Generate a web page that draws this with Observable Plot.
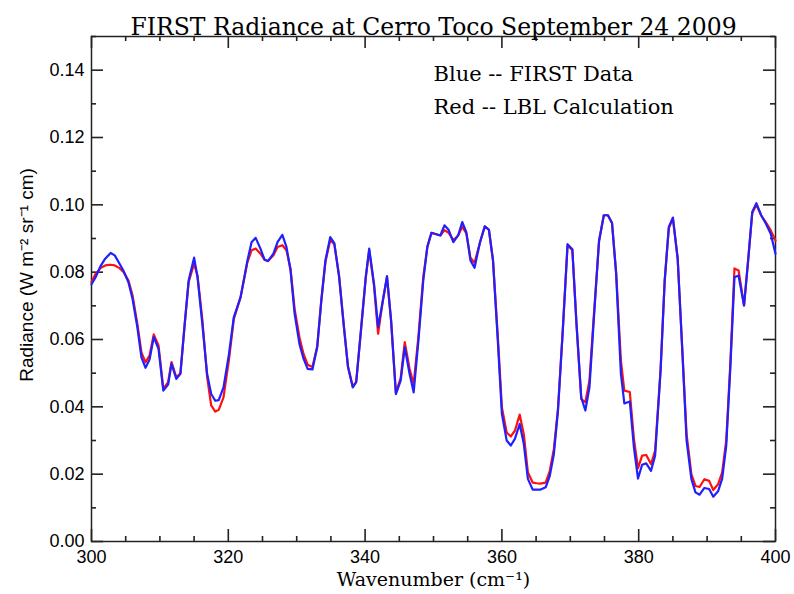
<!DOCTYPE html>
<html>
<head>
<meta charset="utf-8">
<script src="https://cdn.jsdelivr.net/npm/d3@7"></script>
<script src="https://cdn.jsdelivr.net/npm/@observablehq/plot@0.6"></script>
<style>
  html, body { margin: 0; padding: 0; background: white; }
  #chart { width: 794px; height: 594px; }
</style>
</head>
<body>
<div id="chart"></div>
<script>
const wavenumber = [
  300.0, 300.6, 301.3, 302.0, 302.8, 303.4, 304.1, 304.7, 305.4, 306.0,
  306.7, 307.3, 307.9, 308.5, 309.1, 309.8, 310.5, 311.2, 311.7, 312.4,
  313.0, 313.6, 314.2, 315.0, 315.5, 316.2, 316.9, 317.5, 318.1, 318.6,
  319.3, 320.1, 320.8, 321.8, 322.8, 323.4, 324.0, 324.7, 325.3, 325.8,
  326.6, 327.2, 327.9, 328.5, 329.1, 329.7, 330.4, 331.0, 331.6, 332.3,
  333.0, 333.6, 334.2, 334.9, 335.5, 336.2, 336.9, 337.5, 338.2, 338.7,
  339.4, 340.1, 340.6, 341.3, 341.9, 342.6, 343.2, 343.8, 344.5, 345.2,
  345.8, 346.5, 347.1, 347.8, 348.5, 349.1, 349.7, 351.0, 351.6, 352.2,
  352.9, 353.6, 354.2, 354.8, 355.4, 356.0, 356.8, 357.5, 358.1, 358.7,
  359.4, 360.0, 360.7, 361.3, 361.9, 362.6, 363.2, 363.8, 364.5, 365.1,
  365.6, 366.4, 367.0, 367.6, 368.2, 368.9, 369.6, 370.3, 370.9, 371.6,
  372.2, 372.8, 373.4, 374.2, 374.9, 375.5, 376.1, 376.7, 377.4, 377.9,
  378.7, 379.3, 379.9, 380.5, 381.1, 381.8, 382.4, 383.2, 383.8, 384.4,
  385.0, 385.7, 386.4, 387.0, 387.7, 388.3, 388.9, 389.6, 390.3, 390.9,
  391.6, 392.2, 392.8, 393.4, 394.0, 394.6, 395.4, 396.0, 396.6, 397.2,
  397.9, 398.6, 399.3, 400.0
];
const firstData = [
  0.0764, 0.0785, 0.0817, 0.0840, 0.0857, 0.0850, 0.0825, 0.0803, 0.0770, 0.0721,
  0.0637, 0.0547, 0.0516, 0.0541, 0.0607, 0.0572, 0.0448, 0.0466, 0.0528, 0.0483,
  0.0498, 0.0640, 0.0775, 0.0843, 0.0785, 0.0647, 0.0498, 0.0438, 0.0418, 0.0420,
  0.0458, 0.0557, 0.0666, 0.0726, 0.0835, 0.0889, 0.0902, 0.0870, 0.0837, 0.0833,
  0.0855, 0.0889, 0.0911, 0.0875, 0.0805, 0.0676, 0.0587, 0.0543, 0.0513, 0.0511,
  0.0577, 0.0716, 0.0835, 0.0904, 0.0886, 0.0785, 0.0637, 0.0518, 0.0458, 0.0473,
  0.0627, 0.0785, 0.0870, 0.0766, 0.0637, 0.0716, 0.0788, 0.0656, 0.0438, 0.0478,
  0.0577, 0.0498, 0.0443, 0.0597, 0.0775, 0.0875, 0.0917, 0.0909, 0.0939, 0.0926,
  0.0889, 0.0909, 0.0949, 0.0919, 0.0835, 0.0813, 0.0889, 0.0936, 0.0926, 0.0835,
  0.0597, 0.0379, 0.0300, 0.0285, 0.0305, 0.0349, 0.0290, 0.0186, 0.0154, 0.0154,
  0.0154, 0.0161, 0.0195, 0.0260, 0.0389, 0.0627, 0.0883, 0.0868, 0.0647, 0.0428,
  0.0389, 0.0458, 0.0647, 0.0894, 0.0969, 0.0969, 0.0946, 0.0795, 0.0498, 0.0410,
  0.0416, 0.0280, 0.0187, 0.0228, 0.0232, 0.0210, 0.0255, 0.0508, 0.0775, 0.0934,
  0.0962, 0.0840, 0.0557, 0.0300, 0.0186, 0.0146, 0.0139, 0.0159, 0.0156, 0.0133,
  0.0149, 0.0186, 0.0285, 0.0518, 0.0785, 0.0790, 0.0701, 0.0835, 0.0979, 0.1005,
  0.0969, 0.0944, 0.0914, 0.0855
];
const lblCalc = [
  0.0771, 0.0795, 0.0812, 0.0820, 0.0822, 0.0820, 0.0812, 0.0800, 0.0775, 0.0731,
  0.0647, 0.0562, 0.0532, 0.0553, 0.0615, 0.0582, 0.0453, 0.0473, 0.0533, 0.0488,
  0.0500, 0.0640, 0.0770, 0.0825, 0.0790, 0.0660, 0.0490, 0.0404, 0.0386, 0.0391,
  0.0428, 0.0540, 0.0660, 0.0726, 0.0830, 0.0865, 0.0870, 0.0855, 0.0837, 0.0833,
  0.0850, 0.0875, 0.0880, 0.0865, 0.0810, 0.0690, 0.0607, 0.0557, 0.0525, 0.0518,
  0.0580, 0.0716, 0.0830, 0.0895, 0.0883, 0.0790, 0.0640, 0.0520, 0.0460, 0.0475,
  0.0630, 0.0785, 0.0865, 0.0760, 0.0617, 0.0716, 0.0785, 0.0656, 0.0442, 0.0485,
  0.0592, 0.0513, 0.0468, 0.0610, 0.0785, 0.0875, 0.0917, 0.0909, 0.0925, 0.0917,
  0.0895, 0.0909, 0.0935, 0.0915, 0.0843, 0.0828, 0.0889, 0.0936, 0.0926, 0.0835,
  0.0610, 0.0398, 0.0324, 0.0312, 0.0329, 0.0377, 0.0319, 0.0205, 0.0175, 0.0173,
  0.0172, 0.0175, 0.0210, 0.0275, 0.0395, 0.0627, 0.0880, 0.0865, 0.0650, 0.0423,
  0.0414, 0.0478, 0.0660, 0.0890, 0.0969, 0.0969, 0.0946, 0.0800, 0.0537, 0.0448,
  0.0444, 0.0305, 0.0218, 0.0255, 0.0257, 0.0230, 0.0270, 0.0510, 0.0775, 0.0930,
  0.0960, 0.0840, 0.0560, 0.0319, 0.0200, 0.0165, 0.0162, 0.0185, 0.0180, 0.0153,
  0.0170, 0.0205, 0.0300, 0.0530, 0.0811, 0.0805, 0.0701, 0.0835, 0.0975, 0.1000,
  0.0969, 0.0948, 0.0924, 0.0894
];
const xMajorTicks = [300, 320, 340, 360, 380, 400];
const xMinorTicks = [305, 310, 315, 325, 330, 335, 345, 350, 355, 365, 370, 375, 385, 390, 395];
const yMajorTicks = [0, 0.02, 0.04, 0.06, 0.08, 0.10, 0.12, 0.14];
const yMinorTicks = [0.01, 0.03, 0.05, 0.07, 0.09, 0.11, 0.13, 0.15];

const titleText = "FIRST Radiance at Cerro Toco September 24 2009";
const xLabel = "Wavenumber (cm\u207B\u00B9)";
const yLabel = "Radiance (W m\u207B\u00B2 sr\u207B\u00B9 cm)";
const legendLines = ["Blue -- FIRST Data", "Red -- LBL Calculation"];

const xDomain = [300, 400];
const yDomain = [0, 0.15];

const blueData = wavenumber.map((w, i) => ({w, v: firstData[i]}));
const redData = wavenumber.map((w, i) => ({w, v: lblCalc[i]}));

const W = 794, H = 594;
const mL = 91, mR = 19, mT = 36, mB = 53;
const innerW = W - mL - mR, innerH = H - mT - mB;
const majorLen = 12, minorLen = 5;

// tick lengths (pixels) expressed in each scale's units
const xPer = (xDomain[1] - xDomain[0]) / innerW;
const yPer = (yDomain[1] - yDomain[0]) / innerH;

const serif = "'DejaVu Serif', serif";
const sans = "'Liberation Sans', Arial, sans-serif";
const axisColor = "#222";
const tickStyle = {stroke: axisColor, strokeWidth: 1.6};

function xTicks(values, len) {
  return [
    Plot.ruleX(values, {x: d => d, y1: yDomain[0], y2: yDomain[0] + len * yPer, ...tickStyle}),
    Plot.ruleX(values, {x: d => d, y1: yDomain[1], y2: yDomain[1] - len * yPer, ...tickStyle})
  ];
}
function yTicks(values, len) {
  return [
    Plot.ruleY(values, {y: d => d, x1: xDomain[0], x2: xDomain[0] + len * xPer, ...tickStyle}),
    Plot.ruleY(values, {y: d => d, x1: xDomain[1], x2: xDomain[1] - len * xPer, ...tickStyle})
  ];
}

const chart = Plot.plot({
  width: W,
  height: H,
  marginLeft: mL,
  marginRight: mR,
  marginTop: mT,
  marginBottom: mB,
  style: {fontFamily: sans, fontSize: "18px", color: "black", background: "white"},
  x: {domain: xDomain},
  y: {domain: yDomain},
  marks: [
    ...xTicks(xMinorTicks, minorLen),
    ...xTicks(xMajorTicks, majorLen),
    ...yTicks(yMinorTicks, minorLen),
    ...yTicks(yMajorTicks, majorLen),
    Plot.frame({stroke: axisColor, strokeWidth: 1.5}),
    Plot.axisX(xMajorTicks, {anchor: "bottom", tickSize: 0, tickPadding: 9, label: null, fontSize: 18, tickFormat: d3.format("d")}),
    Plot.axisY(yMajorTicks, {anchor: "left", tickSize: 0, tickPadding: 7, label: null, fontSize: 18, tickFormat: d3.format(".2f")}),
    Plot.line(redData, {x: "w", y: "v", stroke: "#ff1010", strokeWidth: 2.2}),
    Plot.line(blueData, {x: "w", y: "v", stroke: "#2020ff", strokeWidth: 2.2}),
    Plot.text([titleText], {frameAnchor: "top", dy: -18, fontFamily: serif, fontSize: 23.5}),
    Plot.text([xLabel], {frameAnchor: "bottom", dy: 44, fontFamily: serif, fontSize: 19}),
    Plot.text([yLabel], {frameAnchor: "left", dx: -65, dy: -14, rotate: -90, textAnchor: "middle", fontFamily: sans, fontSize: 19}),
    Plot.text([legendLines[0]], {frameAnchor: "top-left", dx: 342, dy: 30, textAnchor: "start", fontFamily: serif, fontSize: 21}),
    Plot.text([legendLines[1]], {frameAnchor: "top-left", dx: 342, dy: 63, textAnchor: "start", fontFamily: serif, fontSize: 21})
  ]
});
document.getElementById("chart").appendChild(chart);
</script>
</body>
</html>
